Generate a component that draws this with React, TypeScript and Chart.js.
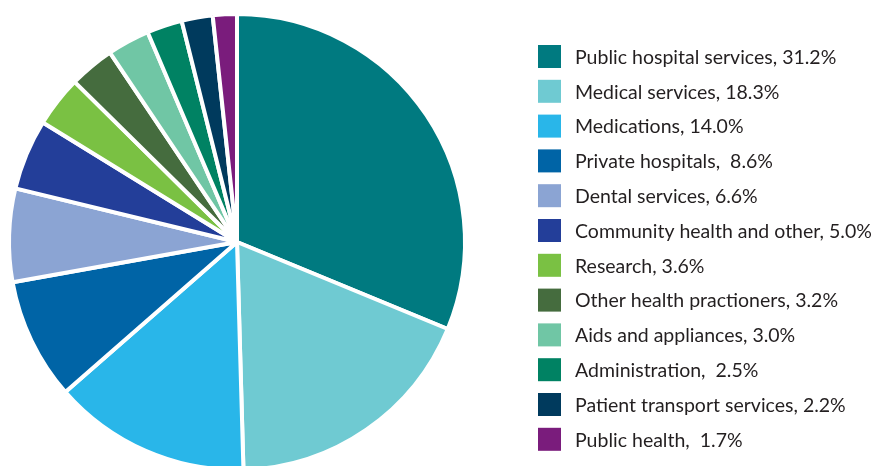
import React, { useEffect, useRef } from "react";
import { Chart, registerables } from "chart.js";

Chart.register(...registerables);

const categories = [
  "Public hospital services",
  "Medical services",
  "Medications",
  "Private hospitals",
  "Dental services",
  "Community health and other",
  "Research",
  "Other health practioners",
  "Aids and appliances",
  "Administration",
  "Patient transport services",
  "Public health",
];
const legendLabels = [
  "Public hospital services, 31.2%",
  "Medical services, 18.3%",
  "Medications, 14.0%",
  "Private hospitals,  8.6%",
  "Dental services, 6.6%",
  "Community health and other, 5.0%",
  "Research, 3.6%",
  "Other health practioners, 3.2%",
  "Aids and appliances, 3.0%",
  "Administration,  2.5%",
  "Patient transport services, 2.2%",
  "Public health,  1.7%",
];
const values = [31.2, 18.3, 14.0, 8.6, 6.6, 5.0, 3.6, 3.2, 3.0, 2.5, 2.2, 1.7];
const colors = [
  "#007A80",
  "#6FCAD2",
  "#29B6E9",
  "#0064A6",
  "#8BA4D3",
  "#233E99",
  "#7AC143",
  "#456C3E",
  "#70C6A5",
  "#008263",
  "#003A5D",
  "#7A1C7C",
];

const legendPlugin = {
  id: "customLegend",
  afterDraw(chart: any) {
    const ctx = chart.ctx;
    ctx.save();
    const x0 = 538;
    const y0 = 45;
    const step = 34.8;
    const box = 23;
    ctx.font = "19.5px Lato";
    ctx.textBaseline = "middle";
    ctx.textAlign = "left";
    legendLabels.forEach((lab, i) => {
      const y = y0 + i * step;
      ctx.fillStyle = colors[i];
      ctx.fillRect(x0, y, box, box);
      ctx.fillStyle = "#231F20";
      ctx.fillText(lab, 575, y + box / 2 + 1);
    });
    ctx.restore();
  },
};

export default function App() {
  const ref = useRef<HTMLCanvasElement>(null);
  useEffect(() => {
    if (!ref.current) return;
    const chart = new Chart(ref.current, {
      type: "pie",
      data: {
        labels: categories,
        datasets: [
          {
            data: values,
            backgroundColor: colors,
            borderColor: "#ffffff",
            borderWidth: 4,
          },
        ],
      },
      options: {
        responsive: false,
        animation: false,
        devicePixelRatio: 1,
        layout: { padding: { left: 7, right: 416, top: 12, bottom: 8 } },
        plugins: {
          legend: { display: false },
          tooltip: { enabled: false },
        },
      },
      plugins: [legendPlugin],
    });
    return () => chart.destroy();
  }, []);
  return (
    <div
      style={{
        position: "absolute",
        top: 0,
        left: 0,
        width: 883,
        height: 466,
        overflow: "hidden",
        background: "#fff",
      }}
    >
      <canvas ref={ref} width={883} height={480} style={{ display: "block" }} />
    </div>
  );
}
